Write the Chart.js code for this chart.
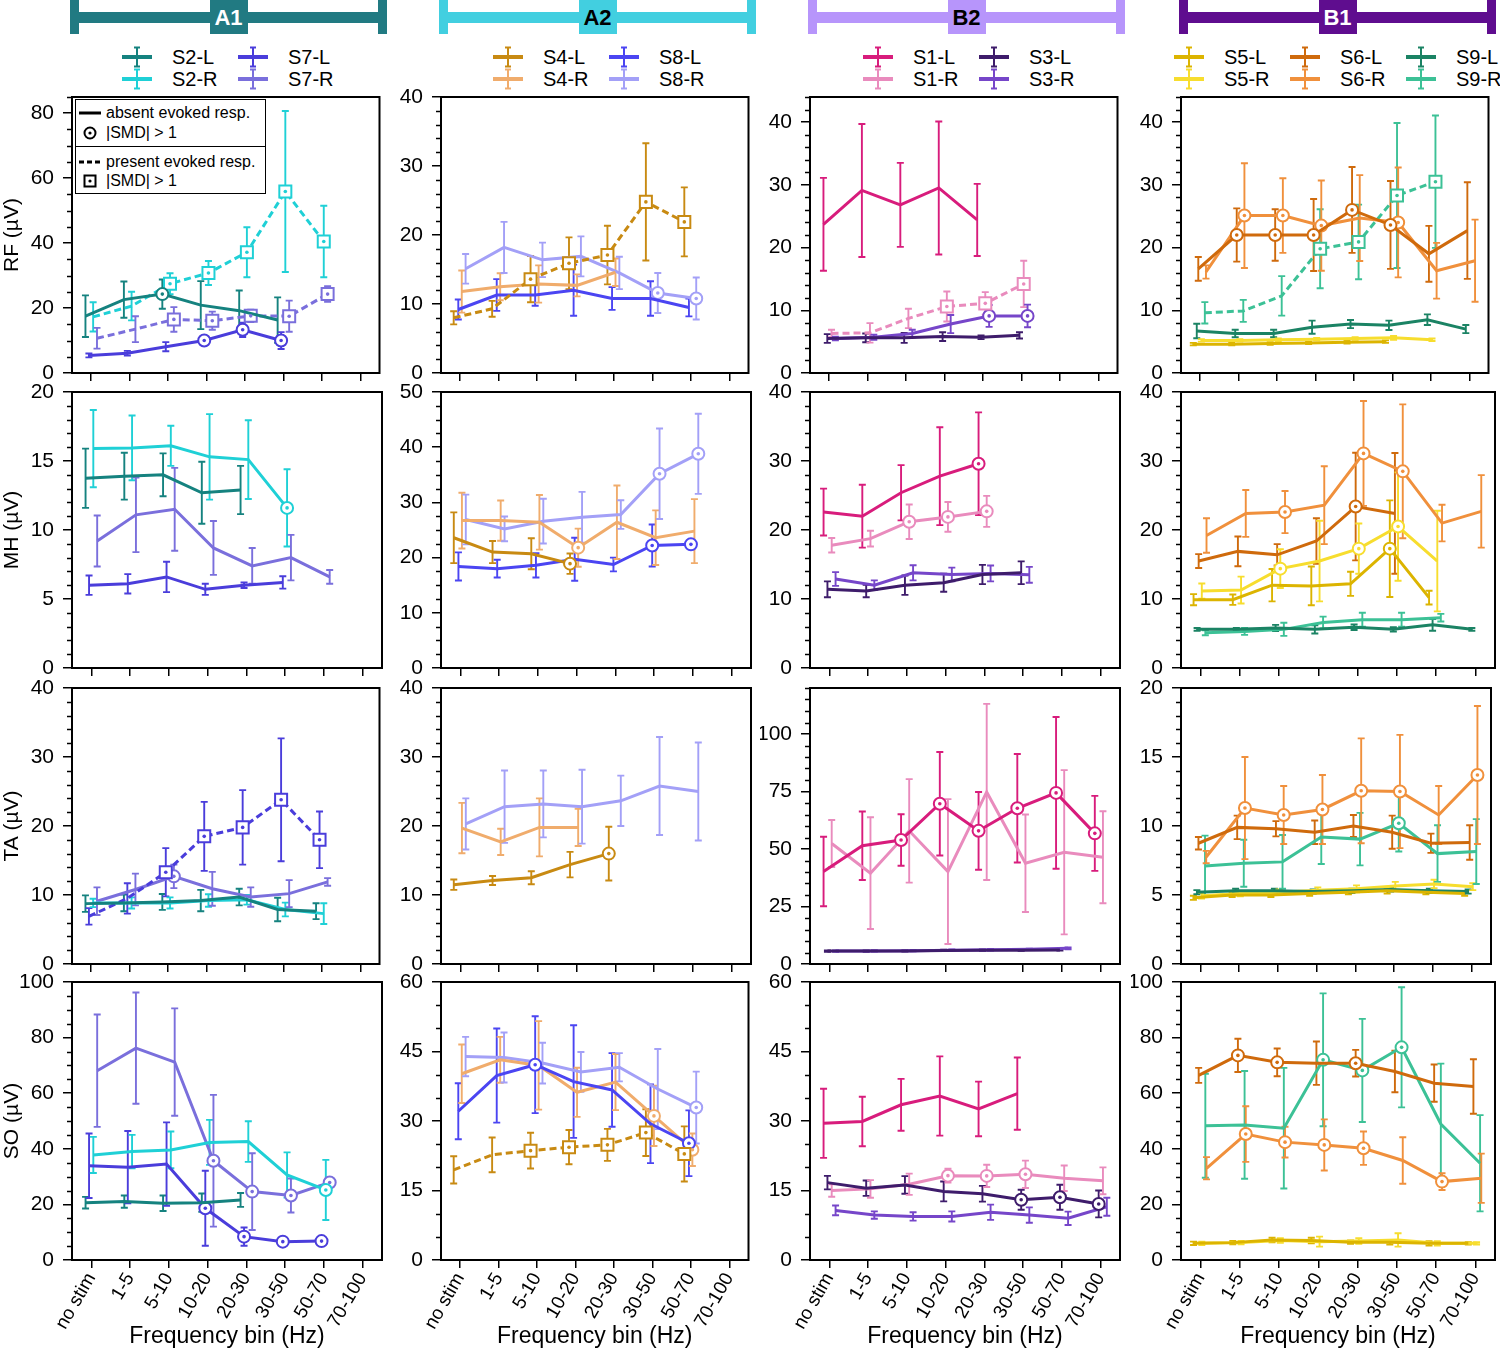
<!DOCTYPE html>
<html>
<head>
<meta charset="utf-8">
<script src="https://cdn.jsdelivr.net/npm/chart.js@4.4.0/dist/chart.umd.min.js"></script>
<style>
  body { margin: 0; width: 1500px; height: 1350px; background: #fff; position: relative; overflow: hidden;
         font-family: 'Liberation Sans', Arial, sans-serif; color: #000; }
  canvas.panel { position: absolute; }
  .abs { position: absolute; }
  .hdrlabel { font-weight: bold; font-size: 22px; text-align: center; line-height: 36px; }
  .leglabel { font-size: 20px; line-height: 22px; white-space: nowrap; }
  #inset { position: absolute; left: 75px; top: 99px; width: 189px; height: 93px; border: 1.5px solid #000;
           background: #fff; z-index: 5; font-size: 16px; }
  #inset .row { position: absolute; left: 0; height: 20px; line-height: 20px; white-space: nowrap; }
</style>
</head>
<body>
<div id="inset">
  <div class="row" style="top:3px"><svg width="30" height="20" style="vertical-align:top"><line x1="3" y1="10" x2="25" y2="10" stroke="#000" stroke-width="3"/></svg>absent evoked resp.</div>
  <div class="row" style="top:23px"><svg width="30" height="20" style="vertical-align:top"><circle cx="14" cy="10" r="5.5" fill="#fff" stroke="#000" stroke-width="2"/><circle cx="14" cy="10" r="1.6" fill="#000"/></svg>|SMD| &gt; 1</div>
  <div style="position:absolute; left:0; right:0; top:46px; border-top:1.5px solid #000"></div>
  <div class="row" style="top:52px"><svg width="30" height="20" style="vertical-align:top"><line x1="3" y1="10" x2="25" y2="10" stroke="#000" stroke-width="3" stroke-dasharray="5,3"/></svg>present evoked resp.</div>
  <div class="row" style="top:71px"><svg width="30" height="20" style="vertical-align:top"><rect x="8.5" y="4.5" width="11" height="11" fill="#fff" stroke="#000" stroke-width="2"/><circle cx="14" cy="10" r="1.6" fill="#000"/></svg>|SMD| &gt; 1</div>
</div>
<script>
// categories
const bins = ['no stim', '1-5', '5-10', '10-20', '20-30', '30-50', '50-70', '70-100'];
const groups = ['A1', 'A2', 'B2', 'B1'];
const muscles = ['RF', 'MH', 'TA', 'SO'];

// ---- RF ----
const RF_S2L = [17.5, 22.6, 24.3, 20.9, 19.2, 16.3, null, null];
const RF_S2L_err = [6.4, 5.6, 4.5, 7.4, 6.2, 7.0, null, null];
const RF_S2L_sig = [2];
const RF_S2R = [17.3, 20.6, 27.5, 30.8, 37.2, 55.9, 40.5, null];
const RF_S2R_err = [4.5, 4.4, 3.2, 3.7, 7.7, 24.8, 11.0, null];
const RF_S2R_sig = [2, 3, 4, 5, 6];
const RF_S7L = [5.4, 6.1, 8.1, 10.0, 13.3, 10.0, null, null];
const RF_S7L_err = [0.6, 0.7, 1.4, 1.2, 2.2, 2.6, null, null];
const RF_S7L_sig = [3, 4, 5];
const RF_S7R = [10.7, 13.5, 16.5, 16.1, 17.6, 17.5, 24.3, null];
const RF_S7R_err = [3.2, 4.0, 3.8, 2.8, 1.9, 4.8, 2.4, null];
const RF_S7R_sig = [2, 3, 4, 5, 6];
const RF_S4L = [8.0, 9.3, 13.6, 15.9, 17.1, 24.8, 21.9, null];
const RF_S4L_err = [0.95, 1.15, 3.35, 3.75, 4.25, 8.5, 5.0, null];
const RF_S4L_sig = [2, 3, 4, 5, 6];
const RF_S4R = [11.8, 12.5, 12.9, 12.7, 14.6, null, null, null];
const RF_S4R_err = [3.05, 1.95, 2.7, 1.6, 2.0, null, null, null];
const RF_S4R_sig = [];
const RF_S8L = [9.2, 11.3, 11.3, 12.0, 10.8, 10.8, 9.5, null];
const RF_S8L_err = [1.45, 2.3, 1.55, 3.7, 1.65, 2.5, 1.3, null];
const RF_S8L_sig = [];
const RF_S8R = [15.1, 18.2, 16.4, 16.9, 14.5, 11.6, 10.8, null];
const RF_S8R_err = [2.15, 3.7, 2.5, 2.9, 2.35, 2.9, 3.05, null];
const RF_S8R_sig = [5, 6];
const RF_S1L = [23.7, 29.1, 26.8, 29.5, 24.4, null, null, null];
const RF_S1L_err = [7.4, 10.6, 6.7, 10.6, 5.75, null, null, null];
const RF_S1L_sig = [];
const RF_S1R = [6.3, 6.4, 8.7, 10.6, 11.1, 14.2, null, null];
const RF_S1R_err = [0.6, 1.55, 1.55, 2.4, 1.8, 3.7, null, null];
const RF_S1R_sig = [3, 4, 5];
const RF_S3L = [5.5, 5.6, 5.6, 5.8, 5.7, 6.0, null, null];
const RF_S3L_err = [0.7, 0.7, 0.8, 0.7, 0.3, 0.5, null, null];
const RF_S3L_sig = [];
const RF_S3R = [5.5, 5.7, 6.3, 7.8, 9.1, 9.1, null, null];
const RF_S3R_err = [0.3, 0.4, 0.6, 1.45, 1.75, 1.8, null, null];
const RF_S3R_sig = [4, 5];
const RF_S5L = [4.6, 4.6, 4.7, 4.8, 4.9, 5.0, null, null];
const RF_S5L_err = [0.2, 0.2, 0.2, 0.2, 0.2, 0.2, null, null];
const RF_S5L_sig = [];
const RF_S5R = [5.2, 5.2, 5.3, 5.4, 5.5, 5.6, 5.3, null];
const RF_S5R_err = [0.2, 0.2, 0.2, 0.2, 0.2, 0.3, 0.2, null];
const RF_S5R_sig = [];
const RF_S6L = [16.6, 22.0, 22.0, 22.0, 26.0, 23.6, 19.0, 22.7];
const RF_S6L_err = [1.9, 4.25, 4.1, 5.75, 6.85, 7.0, 4.45, 7.7];
const RF_S6L_sig = [1, 2, 3, 4, 5];
const RF_S6R = [16.1, 25.1, 25.1, 23.5, 24.7, 24.0, 16.3, 17.9];
const RF_S6R_err = [1.05, 8.35, 5.95, 7.2, 6.85, 8.75, 4.45, 6.55];
const RF_S6R_sig = [1, 2, 3, 5];
const RF_S9L = [6.7, 6.3, 6.3, 7.3, 7.8, 7.6, 8.5, 7.0];
const RF_S9L_err = [1.15, 0.6, 0.6, 1.05, 0.65, 0.75, 0.85, 0.65];
const RF_S9L_sig = [];
const RF_S9R = [9.6, 9.9, 12.3, 19.8, 20.9, 28.3, 30.5, null];
const RF_S9R_err = [1.7, 1.75, 3.15, 6.3, 5.95, 11.55, 10.55, null];
const RF_S9R_sig = [3, 4, 5, 6];

// ---- MH ----
const MH_S2L = [13.75, 13.9, 14.0, 12.7, 12.9, null, null, null];
const MH_S2L_err = [2.15, 1.7, 1.55, 2.25, 1.75, null, null, null];
const MH_S2L_sig = [];
const MH_S2R = [15.9, 15.95, 16.1, 15.3, 15.1, 11.6, null, null];
const MH_S2R_err = [2.8, 2.35, 1.45, 3.1, 2.85, 2.8, null, null];
const MH_S2R_sig = [5];
const MH_S7L = [6.0, 6.1, 6.6, 5.7, 6.0, 6.2, null, null];
const MH_S7L_err = [0.7, 0.7, 1.1, 0.4, 0.2, 0.45, null, null];
const MH_S7L_sig = [];
const MH_S7R = [9.2, 11.1, 11.5, 8.7, 7.4, 8.0, 6.6, null];
const MH_S7R_err = [1.85, 2.7, 3.0, 1.95, 1.3, 1.65, 0.5, null];
const MH_S7R_sig = [];
const MH_S4L = [23.6, 21.0, 20.7, 18.9, null, null, null, null];
const MH_S4L_err = [4.6, 2.0, 2.8, 1.85, null, null, null, null];
const MH_S4L_sig = [3];
const MH_S4R = [26.7, 26.7, 26.4, 21.8, 26.4, 23.6, 24.8, null];
const MH_S4R_err = [5.05, 3.65, 4.95, 3.45, 6.65, 4.95, 5.8, null];
const MH_S4R_sig = [3];
const MH_S8L = [18.4, 18.0, 18.6, 19.7, 18.75, 22.2, 22.4, null];
const MH_S8L_err = [2.55, 1.6, 2.2, 3.9, 1.25, 3.8, 0.4, null];
const MH_S8L_sig = [5, 6];
const MH_S8R = [26.9, 25.2, 26.6, 27.3, 27.8, 35.2, 38.8, null];
const MH_S8R_err = [4.5, 2.25, 4.05, 4.6, 2.6, 8.2, 7.25, null];
const MH_S8R_sig = [5, 6];
const MH_S1L = [22.6, 22.0, 25.4, 27.8, 29.6, null, null, null];
const MH_S1L_err = [3.4, 4.55, 4.0, 7.1, 7.45, null, null, null];
const MH_S1L_sig = [4];
const MH_S1R = [17.8, 18.75, 21.2, 21.9, 22.7, null, null, null];
const MH_S1R_err = [1.05, 1.15, 2.5, 2.15, 2.25, null, null, null];
const MH_S1R_sig = [2, 3, 4];
const MH_S3L = [11.4, 11.15, 12.0, 12.35, 13.55, 13.8, null, null];
const MH_S3L_err = [1.15, 0.9, 1.4, 1.3, 1.4, 1.65, null, null];
const MH_S3L_sig = [];
const MH_S3R = [12.9, 12.0, 13.8, 13.55, 13.7, 13.5, null, null];
const MH_S3R_err = [1.0, 0.7, 1.1, 1.0, 1.15, 1.15, null, null];
const MH_S3R_sig = [];
const MH_S5L = [9.9, 9.9, 12.0, 11.9, 12.2, 17.3, 10.2, null];
const MH_S5L_err = [0.8, 0.75, 2.35, 2.8, 1.75, 7.0, 1.0, null];
const MH_S5L_sig = [5];
const MH_S5R = [11.15, 11.3, 14.4, 15.5, 17.3, 20.5, 15.5, null];
const MH_S5R_err = [1.1, 1.95, 2.8, 5.85, 3.65, 7.85, 7.3, null];
const MH_S5R_sig = [2, 4, 5];
const MH_S6L = [15.5, 16.9, 16.4, 18.4, 23.4, 22.4, null, null];
const MH_S6L_err = [1.0, 2.15, 1.55, 3.3, 7.8, 8.75, null, null];
const MH_S6L_sig = [4];
const MH_S6R = [19.2, 22.4, 22.6, 23.6, 31.1, 28.5, 21.0, 22.7];
const MH_S6R_err = [2.5, 3.4, 3.05, 5.65, 7.6, 9.7, 2.65, 5.25];
const MH_S6R_sig = [2, 4, 5];
const MH_S9L = [5.6, 5.6, 5.8, 5.6, 5.9, 5.6, 6.25, 5.6];
const MH_S9L_err = [0.2, 0.2, 0.45, 0.6, 0.4, 0.3, 0.85, 0.2];
const MH_S9L_sig = [];
const MH_S9R = [5.1, 5.3, 5.6, 6.6, 7.0, 7.0, 7.3, null];
const MH_S9R_err = [0.35, 0.5, 0.95, 0.85, 1.0, 1.0, 0.55, null];
const MH_S9R_sig = [];

// ---- TA ----
const TA_S2L = [8.75, 8.85, 9.0, 9.2, 9.7, 7.9, 7.65, null];
const TA_S2L_err = [1.2, 1.2, 1.15, 1.55, 1.2, 1.7, 1.15, null];
const TA_S2L_sig = [];
const TA_S2R = [8.85, 8.85, 8.85, 9.2, 9.3, 7.9, 7.3, null];
const TA_S2R_err = [0.6, 0.8, 0.8, 0.9, 0.7, 1.0, 1.5, null];
const TA_S2R_sig = [];
const TA_S7L = [6.9, 9.5, 13.3, 18.5, 19.8, 23.8, 18.0, null];
const TA_S7L_err = [1.2, 2.2, 3.5, 5.0, 5.4, 8.9, 4.1, null];
const TA_S7L_sig = [2, 3, 4, 5, 6];
const TA_S7R = [9.1, 10.8, 12.7, 10.9, 9.7, 10.2, 11.9, null];
const TA_S7R_err = [2.0, 2.3, 1.7, 2.45, 1.4, 1.95, 0.55, null];
const TA_S7R_sig = [2];
const TA_S4L = [11.5, 12.1, 12.5, 14.4, 16.0, null, null, null];
const TA_S4L_err = [0.75, 0.65, 0.95, 1.85, 3.9, null, null, null];
const TA_S4L_sig = [4];
const TA_S4R = [19.7, 17.7, 19.8, 19.8, null, null, null, null];
const TA_S4R_err = [3.65, 1.9, 4.2, 2.7, null, null, null, null];
const TA_S4R_sig = [];
const TA_S8R = [20.3, 22.8, 23.2, 22.8, 23.65, 25.8, 25.0, null];
const TA_S8R_err = [3.7, 5.25, 4.85, 5.35, 3.65, 7.1, 7.1, null];
const TA_S8R_sig = [];
const TA_S1L = [40.2, 51.4, 53.9, 69.7, 57.9, 67.7, 74.4, 56.8];
const TA_S1L_err = [15.1, 14.9, 11.2, 22.5, 16.9, 23.6, 33.0, 16.3];
const TA_S1L_sig = [2, 3, 4, 5, 6, 7];
const TA_S1R = [52.4, 39.5, 57.9, 40.2, 74.8, 43.8, 48.6, 46.4];
const TA_S1R_err = [10.2, 24.3, 22.5, 31.5, 38.3, 21.2, 35.7, 20.0];
const TA_S1R_sig = [];
const TA_S3L = [5.6, 5.6, 5.7, 5.9, 6.0, 6.0, 6.1, null];
const TA_S3L_err = [0.3, 0.3, 0.3, 0.3, 0.3, 0.3, 0.3, null];
const TA_S3L_sig = [];
const TA_S3R = [5.6, 5.7, 5.8, 6.0, 6.2, 6.4, 6.8, null];
const TA_S3R_err = [0.3, 0.3, 0.3, 0.3, 0.3, 0.3, 0.4, null];
const TA_S3R_sig = [];
const TA_S5L = [4.8, 5.0, 5.0, 5.1, 5.2, 5.3, 5.2, 5.1];
const TA_S5L_err = [0.15, 0.15, 0.15, 0.15, 0.15, 0.2, 0.15, 0.15];
const TA_S5L_sig = [];
const TA_S5R = [4.95, 5.1, 5.2, 5.35, 5.45, 5.65, 5.8, 5.6];
const TA_S5R_err = [0.2, 0.2, 0.2, 0.2, 0.25, 0.3, 0.3, 0.25];
const TA_S5R_sig = [];
const TA_S6L = [8.75, 9.9, 9.8, 9.55, 10.0, 9.55, 8.75, 8.8];
const TA_S6L_err = [0.45, 0.85, 0.55, 0.85, 0.8, 1.2, 0.7, 1.25];
const TA_S6L_sig = [];
const TA_S6R = [7.75, 11.3, 10.8, 11.2, 12.55, 12.5, 10.8, 13.7];
const TA_S6R_err = [0.45, 3.7, 2.1, 2.5, 3.8, 4.1, 2.1, 5.0];
const TA_S6R_sig = [1, 2, 3, 4, 5, 7];
const TA_S9L = [5.2, 5.3, 5.3, 5.25, 5.3, 5.4, 5.3, 5.25];
const TA_S9L_err = [0.15, 0.15, 0.15, 0.15, 0.15, 0.15, 0.15, 0.15];
const TA_S9L_sig = [];
const TA_S9R = [7.1, 7.3, 7.4, 9.2, 9.05, 10.2, 8.0, 8.15];
const TA_S9R_err = [2.2, 1.7, 1.95, 1.95, 1.9, 2.05, 2.05, 2.35];
const TA_S9R_sig = [5];

// ---- SO ----
const SO_S2L = [20.6, 21.0, 20.4, 20.6, 21.6, null, null, null];
const SO_S2L_err = [2.1, 2.2, 2.8, 3.3, 2.5, null, null, null];
const SO_S2L_sig = [];
const SO_S2R = [37.8, 39.0, 39.6, 42.3, 42.6, 30.6, 25.2, null];
const SO_S2R_err = [6.5, 6.0, 6.6, 8.1, 7.3, 8.1, 10.8, null];
const SO_S2R_sig = [6];
const SO_S7L = [33.9, 33.4, 34.5, 18.6, 8.4, 6.6, 6.8, null];
const SO_S7L_err = [11.6, 13.0, 15.0, 13.5, 3.3, 0.8, 0.6, null];
const SO_S7L_sig = [3, 4, 5, 6];
const SO_S7R = [68.1, 76.2, 71.2, 35.7, 24.6, 23.2, 27.9, null];
const SO_S7R_err = [20.2, 20.0, 19.3, 23.7, 13.8, 6.1, 1.0, null];
const SO_S7R_sig = [3, 4, 5, 6];
const SO_S4L = [19.45, 22.7, 23.6, 24.35, 24.85, 27.5, 22.9, null];
const SO_S4L_err = [2.95, 3.75, 3.85, 3.7, 3.45, 5.05, 5.95, null];
const SO_S4L_sig = [2, 3, 4, 5, 6];
const SO_S4R = [40.2, 43.2, 42.0, 36.2, 38.4, 31.1, 23.8, null];
const SO_S4R_err = [6.3, 4.95, 9.55, 5.3, 6.05, 6.5, 3.5, null];
const SO_S4R_sig = [5, 6];
const SO_S8L = [32.1, 39.8, 42.15, 38.5, 36.7, 29.4, 25.2, null];
const SO_S8L_err = [6.05, 10.15, 10.45, 12.15, 7.95, 8.5, 7.1, null];
const SO_S8L_sig = [2, 6];
const SO_S8R = [43.9, 43.7, 42.5, 40.6, 41.6, 36.9, 32.9, null];
const SO_S8R_err = [4.25, 5.4, 4.4, 4.3, 3.05, 8.65, 7.75, null];
const SO_S8R_sig = [6];
const SO_S1L = [29.5, 29.9, 33.5, 35.4, 32.6, 35.9, null, null];
const SO_S1L_err = [7.45, 5.35, 5.6, 8.55, 5.9, 7.8, null, null];
const SO_S1L_sig = [];
const SO_S1R = [15.0, 15.35, 16.35, 18.2, 18.15, 18.5, 17.65, 17.1];
const SO_S1R_err = [1.35, 1.9, 2.3, 1.5, 2.4, 2.95, 2.75, 2.9];
const SO_S1R_sig = [3, 4, 5];
const SO_S3L = [16.7, 15.5, 16.2, 14.8, 14.3, 13.0, 13.55, 12.1];
const SO_S3L_err = [1.45, 1.65, 1.9, 2.15, 1.7, 2.15, 2.7, 2.9];
const SO_S3L_sig = [5, 6, 7];
const SO_S3R = [10.7, 9.7, 9.4, 9.4, 10.3, 9.7, 9.0, 11.5];
const SO_S3R_err = [1.05, 0.8, 0.9, 1.1, 1.65, 1.65, 1.45, 1.95];
const SO_S3R_sig = [];
const SO_S5L = [6.0, 6.25, 7.2, 7.0, 6.4, 6.4, 6.0, 6.0];
const SO_S5L_err = [0.6, 0.6, 0.8, 1.0, 0.6, 0.8, 0.8, 0.4];
const SO_S5L_sig = [];
const SO_S5R = [6.0, 6.25, 7.0, 6.6, 6.8, 7.2, 6.0, 6.0];
const SO_S5R_err = [0.6, 0.6, 0.8, 1.8, 1.0, 2.4, 0.8, 0.4];
const SO_S5R_sig = [];
const SO_S6L = [66.4, 73.6, 71.1, 70.8, 70.8, 67.8, 63.6, 62.4];
const SO_S6L_err = [2.7, 6.0, 5.0, 7.8, 4.8, 7.45, 6.7, 9.8];
const SO_S6L_sig = [1, 2, 4];
const SO_S6R = [33.0, 45.3, 42.4, 41.4, 40.2, 35.8, 28.2, 29.4];
const SO_S6R_err = [4.0, 10.0, 5.55, 9.2, 6.0, 8.35, 3.0, 8.85];
const SO_S6R_sig = [1, 2, 3, 4, 6];
const SO_S9R = [48.3, 48.6, 47.4, 72.0, 68.2, 76.5, 48.9, 34.8];
const SO_S9R_err = [18.7, 19.4, 21.7, 23.9, 18.55, 21.6, 21.75, 17.3];
const SO_S9R_sig = [3, 4, 5];

// axis ranges per row (muscle) and column (group)
const yMax   = [[85, 40, 44, 44], [20, 50, 40, 40], [40, 40, 120, 20], [100, 60, 60, 100]];
const yMajor = [[20, 10, 10, 10], [5, 10, 10, 10], [10, 10, 25, 5], [20, 15, 15, 20]];
const yMinor = [[5, 2, 2, 2], [1, 2.5, 2, 2], [2, 2, 5, 1], [5, 5, 5, 5]];

// colour and side-by-side shift of every subject
const styles = {
  'S2-L': { color: '#15827f', dx: -0.15 }, 'S2-R': { color: '#1fd0d6', dx: 0.05 },
  'S7-L': { color: '#4a3ddb', dx: -0.06 }, 'S7-R': { color: '#7a6fdc', dx: 0.15 },
  'S4-L': { color: '#c88a12', dx: -0.17 }, 'S4-R': { color: '#f0ac6c', dx: 0.04 },
  'S8-L': { color: '#4b45f2', dx: -0.05 }, 'S8-R': { color: '#a3a0f7', dx: 0.14 },
  'S1-L': { color: '#d81c7c', dx: -0.15 }, 'S1-R': { color: '#e98bbd', dx: 0.06 },
  'S3-L': { color: '#3e1c6b', dx: -0.05 }, 'S3-R': { color: '#7646c9', dx: 0.16 },
  'S5-L': { color: '#dcb400', dx: -0.18 }, 'S5-R': { color: '#f7dd2e', dx: 0.03 },
  'S6-L': { color: '#cf6a0c', dx: -0.05 }, 'S6-R': { color: '#f0903c', dx: 0.15 },
  'S9-L': { color: '#1b8364', dx: -0.09 }, 'S9-R': { color: '#3cc196', dx: 0.12 }
};

function S(name, mean, err, sig, dashed) { return { name, mean, err, sig, dashed: !!dashed }; }

const panels = [
  [ // RF
    [S('S2-L', RF_S2L, RF_S2L_err, RF_S2L_sig), S('S7-L', RF_S7L, RF_S7L_err, RF_S7L_sig),
     S('S2-R', RF_S2R, RF_S2R_err, RF_S2R_sig, true), S('S7-R', RF_S7R, RF_S7R_err, RF_S7R_sig, true)],
    [S('S4-L', RF_S4L, RF_S4L_err, RF_S4L_sig, true), S('S8-L', RF_S8L, RF_S8L_err, RF_S8L_sig),
     S('S4-R', RF_S4R, RF_S4R_err, RF_S4R_sig), S('S8-R', RF_S8R, RF_S8R_err, RF_S8R_sig)],
    [S('S1-L', RF_S1L, RF_S1L_err, RF_S1L_sig), S('S3-L', RF_S3L, RF_S3L_err, RF_S3L_sig),
     S('S1-R', RF_S1R, RF_S1R_err, RF_S1R_sig, true), S('S3-R', RF_S3R, RF_S3R_err, RF_S3R_sig)],
    [S('S5-L', RF_S5L, RF_S5L_err, RF_S5L_sig), S('S9-L', RF_S9L, RF_S9L_err, RF_S9L_sig),
     S('S6-L', RF_S6L, RF_S6L_err, RF_S6L_sig), S('S5-R', RF_S5R, RF_S5R_err, RF_S5R_sig),
     S('S9-R', RF_S9R, RF_S9R_err, RF_S9R_sig, true), S('S6-R', RF_S6R, RF_S6R_err, RF_S6R_sig)]
  ],
  [ // MH
    [S('S2-L', MH_S2L, MH_S2L_err, MH_S2L_sig), S('S7-L', MH_S7L, MH_S7L_err, MH_S7L_sig),
     S('S2-R', MH_S2R, MH_S2R_err, MH_S2R_sig), S('S7-R', MH_S7R, MH_S7R_err, MH_S7R_sig)],
    [S('S4-L', MH_S4L, MH_S4L_err, MH_S4L_sig), S('S8-L', MH_S8L, MH_S8L_err, MH_S8L_sig),
     S('S4-R', MH_S4R, MH_S4R_err, MH_S4R_sig), S('S8-R', MH_S8R, MH_S8R_err, MH_S8R_sig)],
    [S('S1-L', MH_S1L, MH_S1L_err, MH_S1L_sig), S('S3-L', MH_S3L, MH_S3L_err, MH_S3L_sig),
     S('S1-R', MH_S1R, MH_S1R_err, MH_S1R_sig), S('S3-R', MH_S3R, MH_S3R_err, MH_S3R_sig)],
    [S('S5-L', MH_S5L, MH_S5L_err, MH_S5L_sig), S('S9-L', MH_S9L, MH_S9L_err, MH_S9L_sig),
     S('S6-L', MH_S6L, MH_S6L_err, MH_S6L_sig), S('S5-R', MH_S5R, MH_S5R_err, MH_S5R_sig),
     S('S9-R', MH_S9R, MH_S9R_err, MH_S9R_sig), S('S6-R', MH_S6R, MH_S6R_err, MH_S6R_sig)]
  ],
  [ // TA
    [S('S2-L', TA_S2L, TA_S2L_err, TA_S2L_sig), S('S7-L', TA_S7L, TA_S7L_err, TA_S7L_sig, true),
     S('S2-R', TA_S2R, TA_S2R_err, TA_S2R_sig), S('S7-R', TA_S7R, TA_S7R_err, TA_S7R_sig)],
    [S('S4-L', TA_S4L, TA_S4L_err, TA_S4L_sig), S('S4-R', TA_S4R, TA_S4R_err, TA_S4R_sig),
     S('S8-R', TA_S8R, TA_S8R_err, TA_S8R_sig)],
    [S('S1-L', TA_S1L, TA_S1L_err, TA_S1L_sig), S('S3-L', TA_S3L, TA_S3L_err, TA_S3L_sig),
     S('S1-R', TA_S1R, TA_S1R_err, TA_S1R_sig), S('S3-R', TA_S3R, TA_S3R_err, TA_S3R_sig)],
    [S('S5-L', TA_S5L, TA_S5L_err, TA_S5L_sig), S('S9-L', TA_S9L, TA_S9L_err, TA_S9L_sig),
     S('S6-L', TA_S6L, TA_S6L_err, TA_S6L_sig), S('S5-R', TA_S5R, TA_S5R_err, TA_S5R_sig),
     S('S9-R', TA_S9R, TA_S9R_err, TA_S9R_sig), S('S6-R', TA_S6R, TA_S6R_err, TA_S6R_sig)]
  ],
  [ // SO
    [S('S2-L', SO_S2L, SO_S2L_err, SO_S2L_sig), S('S7-L', SO_S7L, SO_S7L_err, SO_S7L_sig),
     S('S2-R', SO_S2R, SO_S2R_err, SO_S2R_sig), S('S7-R', SO_S7R, SO_S7R_err, SO_S7R_sig)],
    [S('S4-L', SO_S4L, SO_S4L_err, SO_S4L_sig, true), S('S8-L', SO_S8L, SO_S8L_err, SO_S8L_sig),
     S('S4-R', SO_S4R, SO_S4R_err, SO_S4R_sig), S('S8-R', SO_S8R, SO_S8R_err, SO_S8R_sig)],
    [S('S1-L', SO_S1L, SO_S1L_err, SO_S1L_sig), S('S3-L', SO_S3L, SO_S3L_err, SO_S3L_sig),
     S('S1-R', SO_S1R, SO_S1R_err, SO_S1R_sig), S('S3-R', SO_S3R, SO_S3R_err, SO_S3R_sig)],
    [S('S5-L', SO_S5L, SO_S5L_err, SO_S5L_sig), S('S6-L', SO_S6L, SO_S6L_err, SO_S6L_sig),
     S('S5-R', SO_S5R, SO_S5R_err, SO_S5R_sig), S('S9-R', SO_S9R, SO_S9R_err, SO_S9R_sig),
     S('S6-R', SO_S6R, SO_S6R_err, SO_S6R_sig)]
  ]
];

// legend layout: columns of [L, R] pairs under each header
const legendCols = [
  [['S2-L', 'S2-R'], ['S7-L', 'S7-R']],
  [['S4-L', 'S4-R'], ['S8-L', 'S8-R']],
  [['S1-L', 'S1-R'], ['S3-L', 'S3-R']],
  [['S5-L', 'S5-R'], ['S6-L', 'S6-R'], ['S9-L', 'S9-R']]
];
const hdrColor = ['#217a82', '#42cfe0', '#b795fb', '#5f0d8f'];
const hdrText = ['#fff', '#000', '#000', '#fff'];

// page geometry
const boxLeft = [72, 441, 810, 1181];
const boxTop = [97, 392, 688, 982];
const boxW = 314;
const boxH = [276, 276, 276, 278];

Chart.defaults.font.family = "'Liberation Sans', Arial, sans-serif";
Chart.defaults.color = '#000';

// error bars, marker dots, frame and minor ticks
const panelDecor = {
  id: 'panelDecor',
  beforeDatasetsDraw(chart) {
    const { ctx, chartArea: a, scales: { x, y } } = chart;
    ctx.save();
    ctx.beginPath();
    ctx.rect(a.left, a.top, a.right - a.left, a.bottom - a.top);
    ctx.clip();
    ctx.lineWidth = 1.9;
    chart.data.datasets.forEach(ds => {
      ctx.strokeStyle = ds.borderColor;
      ds.data.forEach(p => {
        if (p.e == null) return;
        const px = x.getPixelForValue(p.x);
        const y1 = y.getPixelForValue(p.y + p.e);
        const y2 = y.getPixelForValue(p.y - p.e);
        ctx.beginPath();
        ctx.moveTo(px, y1); ctx.lineTo(px, y2);
        ctx.moveTo(px - 3.5, y1); ctx.lineTo(px + 3.5, y1);
        ctx.moveTo(px - 3.5, y2); ctx.lineTo(px + 3.5, y2);
        ctx.stroke();
      });
    });
    ctx.restore();
  },
  afterDatasetsDraw(chart) {
    const { ctx, scales: { x, y } } = chart;
    ctx.save();
    chart.data.datasets.forEach(ds => {
      ctx.fillStyle = ds.borderColor;
      ds.data.forEach(p => {
        if (!p.s) return;
        ctx.beginPath();
        ctx.arc(x.getPixelForValue(p.x), y.getPixelForValue(p.y), 1.8, 0, Math.PI * 2);
        ctx.fill();
      });
    });
    ctx.restore();
  },
  afterDraw(chart) {
    const { ctx, chartArea: a, scales: { y } } = chart;
    const o = chart.options.plugins.panelDecor;
    ctx.save();
    ctx.strokeStyle = '#000';
    ctx.lineWidth = 1.5;
    for (let v = 0; v <= o.max + 1e-9; v += o.minor) {
      const r = v / o.major;
      if (Math.abs(r - Math.round(r)) < 1e-6) continue;
      const py = Math.round(y.getPixelForValue(v)) + 0.5;
      ctx.beginPath();
      ctx.moveTo(a.left, py); ctx.lineTo(a.left - 5, py);
      ctx.stroke();
    }
    ctx.lineWidth = 2;
    ctx.strokeRect(a.left, a.top, a.right - a.left, a.bottom - a.top);
    ctx.restore();
  }
};

function makeDataset(s) {
  const st = styles[s.name];
  const pts = [];
  s.mean.forEach((v, i) => {
    if (v == null) return;
    pts.push({ x: i + st.dx, y: v, e: s.err[i], s: s.sig.includes(i) });
  });
  return {
    label: s.name,
    data: pts,
    borderColor: st.color,
    backgroundColor: st.color,
    borderWidth: 3,
    borderDash: s.dashed ? [7, 4] : [],
    tension: 0,
    pointStyle: s.dashed ? 'rect' : 'circle',
    pointRadius: c => (c.raw && c.raw.s) ? (s.dashed ? 8.5 : 6) : 0,
    pointHoverRadius: 0,
    pointBorderWidth: 2,
    pointBackgroundColor: '#fff',
    pointBorderColor: st.color
  };
}

// keep the plot frame where the page layout wants it
function noPad(s) { s.paddingTop = 0; s.paddingBottom = 0; s.paddingLeft = 0; s.paddingRight = 0; }

function addDiv(left, top, w, h, bg) {
  const d = document.createElement('div');
  d.className = 'abs';
  Object.assign(d.style, { left: left + 'px', top: top + 'px', width: w + 'px', height: h + 'px', background: bg });
  document.body.appendChild(d);
  return d;
}

// headers and legends
groups.forEach((g, c) => {
  const L = boxLeft[c] - 2, R = boxLeft[c] + boxW + 1;
  addDiv(L, 12, R - L, 11, hdrColor[c]);
  addDiv(L, 0, 9, 34, hdrColor[c]);
  addDiv(R - 9, 0, 9, 34, hdrColor[c]);
  const lab = addDiv((L + R) / 2 - 19, 0, 38, 34, hdrColor[c]);
  lab.className = 'abs hdrlabel';
  lab.style.color = hdrText[c];
  lab.textContent = g;

  const lx = [122, 493, 863, 1174][c];
  legendCols[c].forEach((pair, k) => {
    pair.forEach((name, row) => {
      const col = styles[name].color;
      const cx = lx + k * 116, cy = [57, 79][row];
      const icon = document.createElement('div');
      icon.className = 'abs';
      icon.style.left = cx + 'px';
      icon.style.top = (cy - 11) + 'px';
      icon.innerHTML = '<svg width="30" height="22"><line x1="0" y1="11" x2="30" y2="11" stroke="' + col +
        '" stroke-width="4"/><line x1="15" y1="1.5" x2="15" y2="20.5" stroke="' + col + '" stroke-width="2"/>' +
        '<line x1="12" y1="1.5" x2="18" y2="1.5" stroke="' + col + '" stroke-width="2"/>' +
        '<line x1="12" y1="20.5" x2="18" y2="20.5" stroke="' + col + '" stroke-width="2"/></svg>';
      document.body.appendChild(icon);
      const t = document.createElement('div');
      t.className = 'abs leglabel';
      t.style.left = (cx + 50) + 'px';
      t.style.top = (cy - 11) + 'px';
      t.textContent = name;
      document.body.appendChild(t);
    });
  });
});

// the 16 panels
muscles.forEach((m, r) => {
  groups.forEach((g, c) => {
    const yw = c === 0 ? 72 : 50;
    const xh = r === 3 ? 1350 - boxTop[3] - boxH[3] : 12;
    const cv = document.createElement('canvas');
    cv.className = 'panel';
    const w = yw + boxW + 4, h = 14 + boxH[r] + xh;
    cv.width = w; cv.height = h;
    cv.style.left = (boxLeft[c] - yw) + 'px';
    cv.style.top = (boxTop[r] - 14) + 'px';
    cv.style.width = w + 'px'; cv.style.height = h + 'px';
    document.body.appendChild(cv);

    const max = yMax[r][c], major = yMajor[r][c];
    new Chart(cv.getContext('2d'), {
      type: 'line',
      data: { datasets: panels[r][c].map(makeDataset) },
      options: {
        responsive: false,
        animation: false,
        events: [],
        layout: { padding: { top: 14, right: 4, left: 0, bottom: 0 } },
        plugins: {
          legend: { display: false },
          tooltip: { enabled: false },
          panelDecor: { max: max, major: major, minor: yMinor[r][c] }
        },
        scales: {
          x: {
            type: 'linear', min: -0.5, max: 7.5,
            afterBuildTicks: s => { s.ticks = bins.map((b, i) => ({ value: i })); },
            afterFit: s => { s.height = xh; noPad(s); },
            grid: { display: true, drawOnChartArea: false, drawTicks: true, tickLength: 8, color: '#000', lineWidth: 1.5 },
            border: { display: false },
            ticks: {
              display: r === 3, minRotation: 60, maxRotation: 60, padding: 1,
              font: { size: 19 }, callback: v => bins[v]
            },
            title: { display: r === 3, text: 'Frequency bin (Hz)', font: { size: 23 }, padding: 0 }
          },
          y: {
            type: 'linear', min: 0, max: max,
            afterBuildTicks: s => {
              const t = [];
              for (let v = 0; v <= max + 1e-9; v += major) t.push({ value: v });
              s.ticks = t;
            },
            afterFit: s => { s.width = yw; noPad(s); },
            grid: { display: true, drawOnChartArea: false, drawTicks: true, tickLength: 9, color: '#000', lineWidth: 1.5 },
            border: { display: false },
            ticks: { font: { size: 21 }, padding: 9 },
            title: { display: c === 0, text: m + ' (µV)', font: { size: 21 }, padding: 0 }
          }
        }
      },
      plugins: [panelDecor]
    });
  });
});
</script>
</body>
</html>
